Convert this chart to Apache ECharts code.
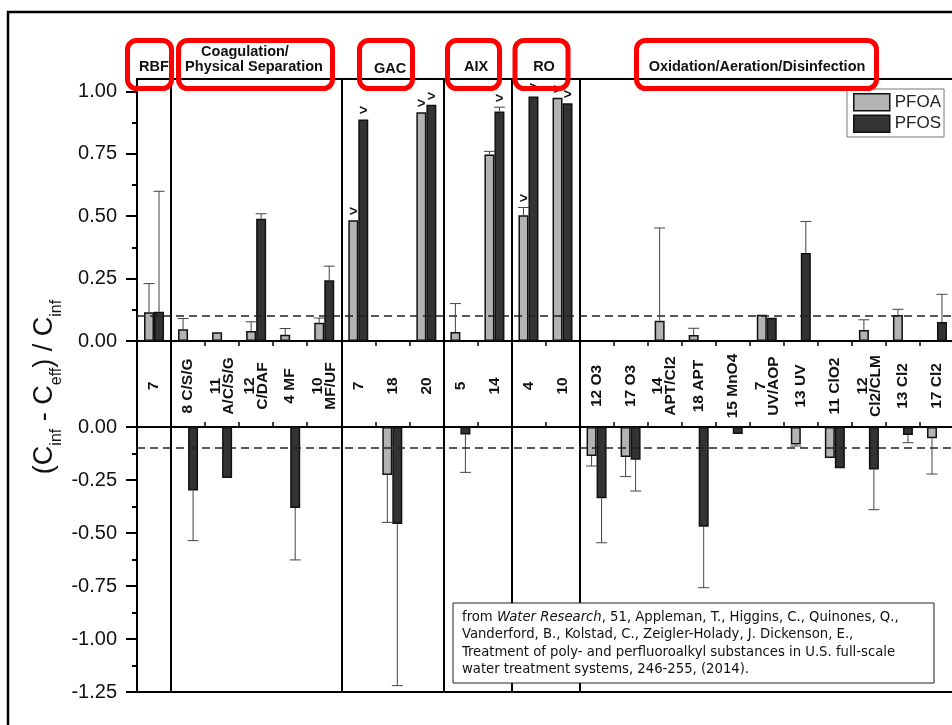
<!DOCTYPE html>
<html><head><meta charset="utf-8">
<script src="https://cdn.jsdelivr.net/npm/echarts@6/dist/echarts.min.js"></script>
<style>html,body{margin:0;padding:0;background:#fff}#c{width:952px;height:725px}</style>
</head><body><div id="c"></div>
<script>
// ---------- data ----------
const categories = ['7','8 C/S/G','11\nA/C/S/G','12\nC/DAF','4 MF','10\nMF/UF','7','18','20','5','14','4','10',
  '12 O3','17 O3','14\nAPT/Cl2','18 APT','15 MnO4','7\nUV/AOP','13 UV','11 ClO2','12\nCl2/CLM','13 Cl2','17 Cl2'];
const groupNames = ['RBF','Coagulation/','Physical Separation','GAC','AIX','RO','Oxidation/Aeration/Disinfection'];
const groupStarts = [0, 1, 6, 9, 11, 13];

// positive removal (top panel)
const pfoaPos    = [0.115,0.047,0.035,0.040,0.025,0.073,0.484,null,0.917,0.036,0.747,0.504,0.975,null,null,0.081,0.024,null,0.105,null,null,0.044,0.104,null];
const pfoaPosErr = [0.230,0.090,null,0.077,0.050,0.092,null,null,null,0.150,0.760,0.535,null,null,null,0.453,0.051,null,null,null,null,0.085,0.127,null];
const pfosPos    = [0.117,null,null,0.490,null,0.243,0.888,null,0.947,null,0.920,0.980,0.953,null,null,null,null,null,0.093,0.353,null,null,null,0.076];
const pfosPosErr = [0.600,null,null,0.510,null,0.300,null,null,null,null,0.937,null,null,null,null,null,null,null,null,0.479,null,null,null,0.187];
const pfoaGreater = [0,0,0,0,0,0,1,0,1,0,0,1,1,0,0,0,0,0,0,0,0,0,0,0];
const pfosGreater = [0,0,0,0,0,0,1,0,1,0,1,1,1,0,0,0,0,0,0,0,0,0,0,0];

// negative removal (bottom panel)
const pfoaNeg    = [null,null,null,null,null,null,null,-0.226,null,null,null,null,null,-0.137,-0.142,null,null,null,null,-0.082,-0.146,null,null,-0.053];
const pfoaNegErr = [null,null,null,null,null,null,null,-0.450,null,null,null,null,null,-0.184,-0.234,null,null,null,null,-0.090,null,null,null,-0.222];
const pfosNeg    = [null,-0.300,-0.240,null,-0.382,null,null,-0.458,null,-0.035,null,null,null,-0.336,-0.154,null,-0.470,-0.033,null,null,-0.195,-0.200,-0.038,null];
const pfosNegErr = [null,-0.536,null,null,-0.627,null,null,-1.220,null,-0.214,null,null,null,-0.546,-0.302,null,-0.758,null,null,null,null,-0.390,-0.074,null];

const topTicks = [0, 0.25, 0.5, 0.75, 1.0];
const topMinorTicks = [0.125, 0.375, 0.625, 0.875];
const thresholds = [0.105, -0.105];

const citationLines = [
  'from {i|Water Research}, 51, Appleman, T., Higgins, C., Quinones, Q.,',
  'Vanderford, B., Kolstad, C., Zeigler-Holady, J. Dickenson, E.,',
  'Treatment of poly- and perfluoroalkyl substances in U.S. full-scale',
  'water treatment systems, 246-255, (2014).'
];

// ---------- styles ----------
const FONT = '"Liberation Sans", Arial, Helvetica, sans-serif';
const BAR_W = 10, CAP = 11;
const C_PFOA = '#b3b3b3', C_PFOS = '#333333';

function errData(vals, errs, flags) {
  const out = [];
  vals.forEach((v, i) => {
    if (v == null) return;
    const e = errs[i];
    out.push([i, v, e == null ? v : e, flags ? flags[i] : 0, e == null ? 0 : 1]);
  });
  return out;
}
function errRender(offset) {
  return function (params, api) {
    const i = api.value(0), v = api.value(1), e = api.value(2), gt = api.value(3), has = api.value(4);
    const p = api.coord([i, v]);
    const x = p[0] + offset;
    const children = [];
    let topY = p[1];
    if (has) {
      const q = api.coord([i, e]);
      children.push({type: 'line', shape: {x1: x, y1: p[1], x2: x, y2: q[1]}, style: {stroke: '#444', lineWidth: 1}});
      children.push({type: 'line', shape: {x1: x - CAP / 2, y1: q[1], x2: x + CAP / 2, y2: q[1]}, style: {stroke: '#444', lineWidth: 1}});
      topY = Math.min(topY, q[1]);
    }
    if (gt) {
      children.push({type: 'text', x: x, y: topY - 1,
        style: {text: '>', align: 'center', verticalAlign: 'bottom', fontSize: 14, fontWeight: 'bold', fontFamily: FONT, fill: '#111'}});
    }
    return {type: 'group', children: children};
  };
}
const sepInterval = (idx) => groupStarts.indexOf(idx) >= 0;
const sepLine = {show: true, interval: sepInterval, lineStyle: {color: '#000', width: 2}};
const fmt = v => v.toFixed(2);

const chart = echarts.init(document.getElementById('c'), null, {renderer: 'canvas'});

const gridBase = {left: 137, width: 817, containLabel: false, outerBoundsMode: 'none'};
const boxStyle = {fill: 'none', stroke: '#ff0000', lineWidth: 5};
const groupText = (t, x, y) => ({type: 'text', z: 201, x: x, y: y,
  style: {text: t, align: 'center', verticalAlign: 'middle', fontSize: 14.5, fontWeight: 'bold', fontFamily: FONT, fill: '#111'}});

const option = {
  animation: false,
  backgroundColor: '#fff',
  grid: [
    Object.assign({}, gridBase, {top: 79, height: 262, show: true, borderColor: '#000', borderWidth: 2}),
    Object.assign({}, gridBase, {top: 341, height: 86}),
    Object.assign({}, gridBase, {top: 427, height: 265, show: true, borderColor: '#000', borderWidth: 2})
  ],
  legend: {
    data: ['PFOA', 'PFOS'], orient: 'vertical', left: 847, top: 89, icon: 'rect',
    itemWidth: 36, itemHeight: 17, itemGap: 3, selectedMode: false,
    padding: [4, 3, 4, 6], borderColor: '#777', borderWidth: 1, backgroundColor: '#fff',
    itemStyle: {borderColor: '#111', borderWidth: 1.5},
    textStyle: {fontSize: 17, color: '#222', fontFamily: FONT}
  },
  xAxis: [
    {gridIndex: 0, type: 'category', data: categories, position: 'bottom',
      axisLine: {show: true, onZero: false, lineStyle: {color: '#000', width: 2}},
      axisTick: {show: true, interval: 0, length: 5, inside: false, lineStyle: {color: '#000', width: 1.5}},
      axisLabel: {show: true, interval: 0, rotate: 90, margin: 45, align: 'center', verticalAlign: 'middle',
        fontSize: 15.5, fontWeight: 'bold', lineHeight: 13, color: '#111', fontFamily: FONT, hideOverlap: false},
      splitLine: sepLine},
    {gridIndex: 1, type: 'category', data: categories,
      axisLine: {show: false}, axisTick: {show: false}, axisLabel: {show: false}, splitLine: sepLine},
    {gridIndex: 2, type: 'category', data: categories, position: 'top',
      axisLine: {show: true, onZero: false, lineStyle: {color: '#000', width: 2}},
      axisTick: {show: true, interval: 0, length: 5, inside: false, lineStyle: {color: '#000', width: 1.5}},
      axisLabel: {show: false}, splitLine: sepLine}
  ],
  yAxis: [
    {gridIndex: 0, type: 'value', min: 0, max: 1.05, interval: 0.25, position: 'left',
      axisLine: {show: true, lineStyle: {color: '#000', width: 2}},
      axisTick: {show: true, length: 11, customValues: topTicks, lineStyle: {color: '#000', width: 2}},
      axisLabel: {show: true, customValues: topTicks, margin: 20, fontSize: 20, color: '#111', fontFamily: FONT, formatter: fmt},
      splitLine: {show: false}},
    {gridIndex: 0, type: 'value', min: 0, max: 1.05, interval: 0.125, position: 'left', offset: 0,
      axisLine: {show: false},
      axisTick: {show: true, length: 5, customValues: topMinorTicks, lineStyle: {color: '#000', width: 2}},
      axisLabel: {show: false}, splitLine: {show: false}},
    {gridIndex: 1, type: 'value', show: false},
    {gridIndex: 2, type: 'value', min: -1.25, max: 0, interval: 0.25, position: 'left',
      axisLine: {show: true, lineStyle: {color: '#000', width: 2}},
      axisTick: {show: true, length: 11, lineStyle: {color: '#000', width: 2}},
      minorTick: {show: true, splitNumber: 2, length: 5, lineStyle: {color: '#000', width: 2}},
      axisLabel: {show: true, margin: 20, fontSize: 20, color: '#111', fontFamily: FONT, formatter: fmt},
      splitLine: {show: false}, minorSplitLine: {show: false}}
  ],
  series: [
    {name: 'PFOA', type: 'bar', xAxisIndex: 0, yAxisIndex: 0, data: pfoaPos, barWidth: BAR_W, barGap: '0%',
      itemStyle: {color: C_PFOA, borderColor: '#111', borderWidth: 1.5},
      markLine: {silent: true, symbol: ['none', 'none'], label: {show: false},
        lineStyle: {type: [8, 5], color: '#222', width: 1.5}, data: [{yAxis: thresholds[0]}]}},
    {name: 'PFOS', type: 'bar', xAxisIndex: 0, yAxisIndex: 0, data: pfosPos, barWidth: BAR_W, barGap: '0%',
      itemStyle: {color: C_PFOS, borderColor: '#111', borderWidth: 1.5}},
    {name: 'PFOA', type: 'bar', xAxisIndex: 2, yAxisIndex: 3, data: pfoaNeg, barWidth: BAR_W, barGap: '0%',
      itemStyle: {color: C_PFOA, borderColor: '#111', borderWidth: 1.5},
      markLine: {silent: true, symbol: ['none', 'none'], label: {show: false},
        lineStyle: {type: [8, 5], color: '#222', width: 1.5}, data: [{yAxis: thresholds[1]}]}},
    {name: 'PFOS', type: 'bar', xAxisIndex: 2, yAxisIndex: 3, data: pfosNeg, barWidth: BAR_W, barGap: '0%',
      itemStyle: {color: C_PFOS, borderColor: '#111', borderWidth: 1.5}},
    {name: 'errA1', type: 'custom', xAxisIndex: 0, yAxisIndex: 0, encode: {x: 0, y: 1}, z: 5,
      data: errData(pfoaPos, pfoaPosErr, pfoaGreater), renderItem: errRender(-BAR_W / 2)},
    {name: 'errS1', type: 'custom', xAxisIndex: 0, yAxisIndex: 0, encode: {x: 0, y: 1}, z: 5,
      data: errData(pfosPos, pfosPosErr, pfosGreater), renderItem: errRender(BAR_W / 2)},
    {name: 'errA2', type: 'custom', xAxisIndex: 2, yAxisIndex: 3, encode: {x: 0, y: 1}, z: 5,
      data: errData(pfoaNeg, pfoaNegErr, null), renderItem: errRender(-BAR_W / 2)},
    {name: 'errS2', type: 'custom', xAxisIndex: 2, yAxisIndex: 3, encode: {x: 0, y: 1}, z: 5,
      data: errData(pfosNeg, pfosNegErr, null), renderItem: errRender(BAR_W / 2)}
  ],
  graphic: [
    {type: 'rect', z: 200, shape: {x: 8, y: 12, width: 980, height: 740}, style: {fill: 'none', stroke: '#000', lineWidth: 2.5}},
    // red group boxes
    {type: 'rect', z: 200, shape: {x: 127.5, y: 40.5, width: 44, height: 48, r: 9}, style: boxStyle},
    {type: 'rect', z: 200, shape: {x: 178.5, y: 40.5, width: 154, height: 48, r: 9}, style: boxStyle},
    {type: 'rect', z: 200, shape: {x: 359.5, y: 40.5, width: 53, height: 48, r: 9}, style: boxStyle},
    {type: 'rect', z: 200, shape: {x: 447.5, y: 40.5, width: 52, height: 48, r: 9}, style: boxStyle},
    {type: 'rect', z: 200, shape: {x: 515, y: 40.5, width: 53, height: 48, r: 9}, style: boxStyle},
    {type: 'rect', z: 200, shape: {x: 636.5, y: 40.5, width: 240, height: 48, r: 9}, style: boxStyle},
    // group labels
    groupText(groupNames[0], 154, 67),
    groupText(groupNames[1], 245, 51.5),
    groupText(groupNames[2], 254, 67),
    groupText(groupNames[3], 390, 69),
    groupText(groupNames[4], 476, 67),
    groupText(groupNames[5], 544, 67),
    groupText(groupNames[6], 757, 67),
    // y-axis title
    {type: 'text', z: 201, x: 45, y: 387, rotation: Math.PI / 2,
      style: {text: '{m|(C}{s|inf}{m| - C}{s|eff}{m|) / C}{s|inf}', align: 'center', verticalAlign: 'middle',
        rich: {m: {fontSize: 27, fontFamily: FONT, fill: '#111', lineHeight: 40},
               s: {fontSize: 16, fontFamily: FONT, fill: '#111', verticalAlign: 'bottom'}}}},
    // citation box
    {type: 'rect', z: 202, shape: {x: 453, y: 603, width: 481, height: 80}, style: {fill: '#fff', stroke: '#222', lineWidth: 1}},
    {type: 'text', z: 203, x: 462, y: 608,
      style: {text: citationLines.join('\n'), align: 'left', verticalAlign: 'top', fontSize: 14.7, lineHeight: 17.5,
        fontFamily: '"DejaVu Sans Condensed", "DejaVu Sans", sans-serif', fill: '#111',
        rich: {i: {fontSize: 14.7, lineHeight: 17.5, fontStyle: 'italic', fontFamily: '"DejaVu Sans Condensed", "DejaVu Sans", sans-serif', fill: '#111'}}}}
  ]
};
chart.setOption(option);
</script>
</body></html>
